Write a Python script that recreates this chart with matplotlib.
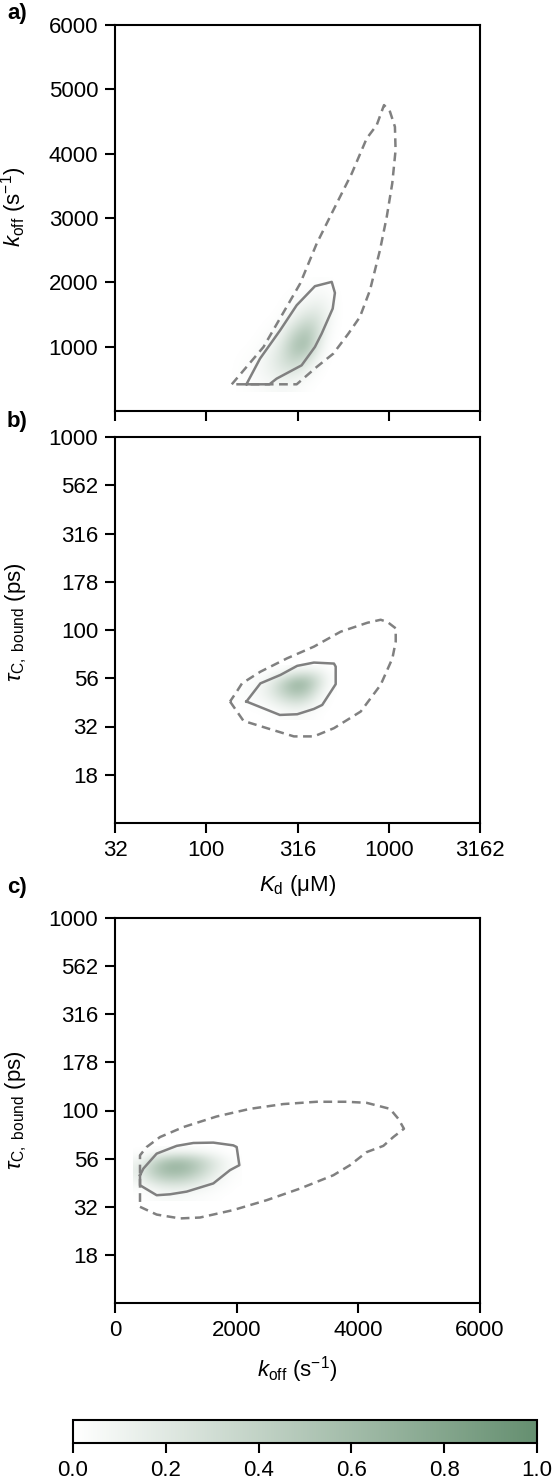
import numpy as np
import matplotlib
matplotlib.use("Agg")
import matplotlib.pyplot as plt
from matplotlib.colors import LinearSegmentedColormap, Normalize
from matplotlib.cm import ScalarMappable

plt.rcParams["font.family"] = ["Liberation Sans", "DejaVu Sans"]
plt.rcParams["mathtext.fontset"] = "custom"
plt.rcParams["mathtext.rm"] = "Liberation Sans"
plt.rcParams["mathtext.it"] = "Liberation Sans:italic"
plt.rcParams["mathtext.bf"] = "Liberation Sans:bold"

# ---- panel a: Kd (uM) vs koff (1/s) ----
a_outer_kd = [138, 206, 327, 403, 497, 627, 757, 859, 942, 1016, 1081, 1090, 1045,
              975, 895, 789, 695, 601, 497, 403, 313]
a_outer_koff = [415, 996, 1981, 2603, 3122, 3692, 4237, 4444, 4755, 4652, 4418, 4055,
                3537, 3018, 2500, 1877, 1462, 1203, 892, 685, 415]
a_inner_kd = [166, 197, 254, 313, 394, 487, 507, 493, 429, 394, 333, 243, 222]
a_inner_koff = [415, 814, 1255, 1644, 1940, 2007, 1836, 1592, 1203, 996, 710, 503, 415]

a_grid_kd = [150, 200, 250, 300, 350, 400, 450, 500, 550]
a_grid_koff = [400, 600, 800, 1000, 1200, 1400, 1600, 1800, 2000]
a_density = [
    [0.00, 0.03, 0.06, 0.04, 0.01, 0.00, 0.00, 0.00, 0.00],
    [0.00, 0.06, 0.18, 0.20, 0.08, 0.02, 0.00, 0.00, 0.00],
    [0.00, 0.04, 0.24, 0.42, 0.28, 0.08, 0.01, 0.00, 0.00],
    [0.00, 0.01, 0.16, 0.55, 0.60, 0.22, 0.04, 0.00, 0.00],
    [0.00, 0.00, 0.06, 0.38, 0.55, 0.32, 0.08, 0.01, 0.00],
    [0.00, 0.00, 0.01, 0.15, 0.32, 0.28, 0.12, 0.03, 0.00],
    [0.00, 0.00, 0.00, 0.04, 0.12, 0.16, 0.10, 0.04, 0.00],
    [0.00, 0.00, 0.00, 0.01, 0.03, 0.06, 0.05, 0.02, 0.00],
    [0.00, 0.00, 0.00, 0.00, 0.00, 0.01, 0.01, 0.00, 0.00],
]

# ---- panel b: Kd (uM) vs tau_C,bound (ps) ----
b_outer_kd = [135, 160, 215, 302, 389, 501, 702, 903, 1047, 1092, 1092, 984, 903, 763,
              545, 389, 277, 198, 157, 147]
b_outer_tau = [42.6, 33.8, 31.0, 28.1, 28.1, 31.0, 37.8, 52.0, 71.3, 87.1, 102, 110,
               113, 109, 98, 82, 71.3, 60.8, 52.9, 48.0]
b_inner_kd = [166, 198, 255, 315, 389, 501, 512, 512, 432, 389, 315, 253]
b_inner_tau = [42.6, 52.9, 58.5, 65.2, 67.8, 67.0, 64.6, 52.4, 40.9, 39.0, 36.6, 36.3]

b_grid_kd = [160, 200, 250, 300, 350, 400, 450, 500]
b_grid_tau = [36, 40, 44, 48, 52, 56, 60, 64]
b_density = [
    [0.00, 0.00, 0.02, 0.04, 0.03, 0.01, 0.00, 0.00],
    [0.00, 0.03, 0.12, 0.18, 0.12, 0.04, 0.01, 0.00],
    [0.01, 0.08, 0.28, 0.40, 0.30, 0.12, 0.03, 0.00],
    [0.01, 0.10, 0.40, 0.60, 0.48, 0.22, 0.06, 0.01],
    [0.00, 0.08, 0.38, 0.65, 0.55, 0.30, 0.10, 0.02],
    [0.00, 0.04, 0.22, 0.42, 0.42, 0.26, 0.10, 0.02],
    [0.00, 0.01, 0.08, 0.18, 0.20, 0.15, 0.06, 0.01],
    [0.00, 0.00, 0.01, 0.04, 0.05, 0.04, 0.02, 0.00],
]

# ---- panel c: koff (1/s) vs tau_C,bound (ps) ----
c_outer_koff = [411, 685, 1068, 1397, 1945, 2493, 3041, 3589, 3863, 4137, 4411, 4575,
                4750, 4657, 4520, 4137, 3808, 3315, 2767, 2219, 1671, 1123, 740, 520, 411]
c_outer_tau = [31.6, 28.8, 27.5, 27.8, 30.4, 34.2, 39.3, 46.1, 52.0, 60.8, 65.5, 72.8,
               80.4, 90.6, 102, 109.6, 111, 111, 108, 102, 93.1, 82.0, 72.8, 64.6, 58.5]
c_inner_koff = [411, 466, 685, 1014, 1288, 1616, 1945, 2000, 2044, 1890, 1616, 1178,
                904, 685, 411]
c_inner_tau = [46.1, 49.9, 59.7, 65.5, 67.8, 68.1, 65.9, 64.6, 52.0, 49.0, 41.8, 37.9,
               36.7, 36.3, 40.9]

c_grid_koff = [400, 600, 800, 1000, 1200, 1400, 1600, 1800, 2000]
c_grid_tau = [36, 40, 44, 48, 52, 56, 60, 64]
c_density = [
    [0.00, 0.02, 0.04, 0.04, 0.03, 0.02, 0.01, 0.00, 0.00],
    [0.03, 0.10, 0.16, 0.18, 0.15, 0.10, 0.05, 0.02, 0.00],
    [0.10, 0.28, 0.40, 0.42, 0.36, 0.24, 0.12, 0.04, 0.01],
    [0.15, 0.40, 0.58, 0.62, 0.55, 0.38, 0.20, 0.07, 0.01],
    [0.12, 0.38, 0.58, 0.65, 0.58, 0.42, 0.24, 0.09, 0.02],
    [0.06, 0.22, 0.38, 0.45, 0.42, 0.32, 0.18, 0.07, 0.01],
    [0.02, 0.06, 0.12, 0.16, 0.16, 0.12, 0.07, 0.02, 0.00],
    [0.00, 0.01, 0.02, 0.03, 0.03, 0.02, 0.01, 0.00, 0.00],
]

kd_ticks = [10**1.5, 10**2, 10**2.5, 10**3, 10**3.5]
kd_labels = ["32", "100", "316", "1000", "3162"]
tau_ticks = [10**1.25, 10**1.5, 10**1.75, 10**2, 10**2.25, 10**2.5, 10**2.75, 10**3]
tau_labels = ["18", "32", "56", "100", "178", "316", "562", "1000"]
koff_ticks = [1000, 2000, 3000, 4000, 5000, 6000]
koff_x_ticks = [0, 2000, 4000, 6000]
cbar_ticks = [0.0, 0.2, 0.4, 0.6, 0.8, 1.0]

cmap = LinearSegmentedColormap.from_list("wgreen", ["#ffffff", "#658f70"])
line_col = "#808080"
FS = 16
LFS = 16
W, H = 555, 1482


def ax_rect(left, top, right, bottom):
    return [left / W, 1 - bottom / H, (right - left) / W, (bottom - top) / H]


def style(ax):
    for s in ax.spines.values():
        s.set_linewidth(1.5)
    ax.tick_params(direction="out", length=7, width=1.5, labelsize=FS, pad=5,
                   top=False, right=False)
    ax.minorticks_off()


def draw_density(ax, gx, gy, z):
    dx = (gx[1] - gx[0]) / 2
    dy = (gy[1] - gy[0]) / 2
    ax.imshow(np.array(z), origin="lower", cmap=cmap, vmin=0, vmax=1,
              extent=[gx[0] - dx, gx[-1] + dx, gy[0] - dy, gy[-1] + dy],
              aspect="auto", interpolation="bicubic", zorder=1)


def draw_contours(ax, ox, oy, ix, iy):
    ax.plot(np.append(ox, ox[0]), np.append(oy, oy[0]), color=line_col, lw=1.8,
            ls=(0, (3.5, 2.2)), zorder=3)
    ax.plot(np.append(ix, ix[0]), np.append(iy, iy[0]), color=line_col, lw=1.8,
            zorder=4)


fig = plt.figure(figsize=(W / 100, H / 100), dpi=100)

# a)
ax_a = fig.add_axes(ax_rect(115, 25, 480, 411))
ax_a.set_xscale("log")
draw_density(ax_a, a_grid_kd, a_grid_koff, a_density)
draw_contours(ax_a, a_outer_kd, a_outer_koff, a_inner_kd, a_inner_koff)
ax_a.set_xlim(kd_ticks[0], kd_ticks[-1])
ax_a.set_ylim(0, 6000)
ax_a.set_yticks(koff_ticks)
style(ax_a)
ax_a.set_xticks(kd_ticks)
ax_a.set_xticklabels([])
ax_a.set_ylabel(r"$k_\mathrm{off}$ (s$^{-1}$)", fontsize=LFS)
ax_a.yaxis.set_label_coords(-0.235, 0.53)

# b)
ax_b = fig.add_axes(ax_rect(115, 437, 480, 823))
ax_b.set_xscale("log")
ax_b.set_yscale("log")
draw_density(ax_b, b_grid_kd, b_grid_tau, b_density)
draw_contours(ax_b, b_outer_kd, b_outer_tau, b_inner_kd, b_inner_tau)
ax_b.set_xlim(kd_ticks[0], kd_ticks[-1])
ax_b.set_ylim(10, 1000)
style(ax_b)
ax_b.set_xticks(kd_ticks)
ax_b.set_xticklabels(kd_labels)
ax_b.set_yticks(tau_ticks)
ax_b.set_yticklabels(tau_labels)
ax_b.set_xlabel(r"$K_\mathrm{d}$ (μM)", fontsize=LFS, labelpad=9)
ax_b.set_ylabel(r"$\tau_\mathrm{C,\ bound}$ (ps)", fontsize=LFS)
ax_b.yaxis.set_label_coords(-0.235, 0.52)

# c)
ax_c = fig.add_axes(ax_rect(115, 918, 480, 1303))
ax_c.set_yscale("log")
draw_density(ax_c, c_grid_koff, c_grid_tau, c_density)
draw_contours(ax_c, c_outer_koff, c_outer_tau, c_inner_koff, c_inner_tau)
ax_c.set_xlim(0, 6000)
ax_c.set_ylim(10, 1000)
style(ax_c)
ax_c.set_xticks(koff_x_ticks)
ax_c.set_yticks(tau_ticks)
ax_c.set_yticklabels(tau_labels)
ax_c.set_xlabel(r"$k_\mathrm{off}$ (s$^{-1}$)", fontsize=LFS, labelpad=10)
ax_c.set_ylabel(r"$\tau_\mathrm{C,\ bound}$ (ps)", fontsize=LFS)
ax_c.yaxis.set_label_coords(-0.235, 0.5)

# colorbar
cax = fig.add_axes(ax_rect(73, 1420, 537, 1443))
cb = fig.colorbar(ScalarMappable(norm=Normalize(0, 1), cmap=cmap), cax=cax,
                  orientation="horizontal", ticks=cbar_ticks)
cb.ax.set_xticklabels([f"{t:.1f}" for t in cbar_ticks])
cb.outline.set_linewidth(1.5)
cb.ax.tick_params(direction="out", length=7, width=1.5, labelsize=FS, pad=5)
cb.ax.minorticks_off()

for lab, (x, y) in zip(["a)", "b)", "c)"], [(17, 13), (17, 422), (17, 887)]):
    fig.text(x / W, 1 - y / H, lab, ha="center", va="center", fontsize=16,
             fontweight="bold")

fig.savefig("out.png", dpi=100)
